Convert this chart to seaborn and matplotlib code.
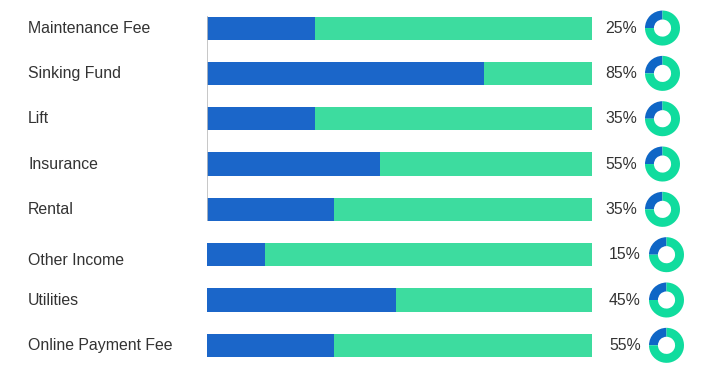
import matplotlib
matplotlib.use("Agg")
import matplotlib.pyplot as plt
import seaborn as sns
import pandas as pd

sns.set_style("white")
plt.rcParams['font.family'] = ['Liberation Sans', 'DejaVu Sans']

# data
categories = ["Maintenance Fee", "Sinking Fund", "Lift", "Insurance", "Rental",
              "Other Income", "Utilities", "Online Payment Fee"]
blue_share = [28, 72, 28, 45, 33, 15, 49, 33]
pct_labels = ["25%", "85%", "35%", "55%", "35%", "15%", "45%", "55%"]
donut_share = [25, 25, 25, 25, 25, 25, 25, 25]

bar_blue = "#1b66c9"
bar_green = "#3ddc9f"
ring_blue = "#0f66c6"
ring_green = "#10dc9e"
text_col = "#333333"

df = pd.DataFrame({"category": categories, "blue": blue_share, "total": [100] * len(categories)})

fig = plt.figure(figsize=(7.07, 3.83), dpi=100)
ax = fig.add_axes([207 / 707, 1 - 368 / 383, 385 / 707, (368 - 5.4) / 383])

sns.barplot(data=df, y="category", x="total", color=bar_green, width=0.51,
            orient="h", ax=ax, saturation=1, linewidth=0)
sns.barplot(data=df, y="category", x="blue", color=bar_blue, width=0.51,
            orient="h", ax=ax, saturation=1, linewidth=0)

ax.set_xlim(0, 100)
ax.set_ylim(len(categories) - 0.5, -0.5)
ax.set_xlabel("")
ax.set_ylabel("")
ax.set_xticks([])
ax.set_yticks([])
for s in ax.spines.values():
    s.set_visible(False)
# grey axis line only along the first five rows
ax.vlines(0, -0.26, 4.26, color="#bdbdbd", lw=1.2, zorder=5)

fig.canvas.draw()
to_fig = fig.transFigure.inverted()
for i, (cat, lab, share) in enumerate(zip(categories, pct_labels, donut_share)):
    _, ypix = ax.transData.transform((0, i))
    yf = to_fig.transform((0, ypix))[1]
    dy = -0.014 if i == 5 else 0
    fig.text(28 / 707, yf + dy, cat, ha="left", va="center", fontsize=11.4, color=text_col)
    xoff = 0 if i < 5 else 4
    fig.text((605 + xoff) / 707, yf, lab, ha="left", va="center", fontsize=11.4, color=text_col)
    cx = 662.5 + xoff
    size = 35
    dax = fig.add_axes([(cx - size / 2) / 707, yf - size / 2 / 383, size / 707, size / 383])
    dax.pie([share, 100 - share], colors=[ring_blue, ring_green], startangle=90,
            counterclock=True, wedgeprops=dict(width=0.51, edgecolor="none"))
    dax.set_xlim(-1, 1)
    dax.set_ylim(-1, 1)
    dax.set_aspect("equal")
    dax.axis("off")

fig.savefig("out.png", dpi=100)
